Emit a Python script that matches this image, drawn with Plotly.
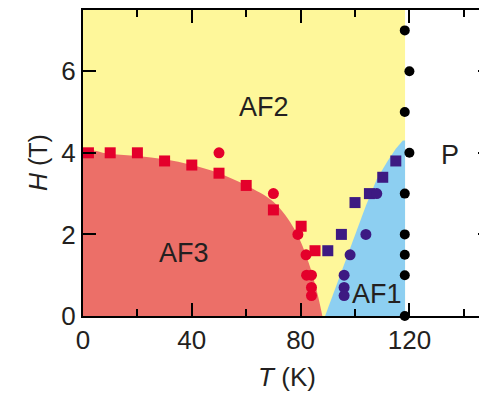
import plotly.graph_objects as go

# Region boundaries
af2_T = [0, 118.4, 118.4, 0]
af2_H = [0, 0, 7.5, 7.5]

af3_T = [0, 0, 10, 20, 30, 40, 50, 60, 70, 78, 83, 86, 88]
af3_H = [0, 4.0, 3.97, 3.92, 3.84, 3.7, 3.5, 3.2, 2.8, 2.1, 1.3, 0.6, 0]

af1_T = [89, 95, 100, 104, 108, 112, 115, 117.6, 118.4, 118.4]
af1_H = [0, 1.1, 2.0, 2.7, 3.35, 3.8, 4.1, 4.3, 4.3, 0]

# Data points
red_sq_T = [2, 10, 20, 30, 40, 50, 60, 70, 80.2, 85.3]
red_sq_H = [4.0, 4.0, 4.0, 3.8, 3.7, 3.5, 3.2, 2.6, 2.2, 1.6]

red_ci_T = [50, 70, 79, 82, 82.2, 84, 84, 84]
red_ci_H = [4.0, 3.0, 2.0, 1.5, 1.0, 1.0, 0.7, 0.5]

pur_sq_T = [90, 95, 100, 105.3, 110.2, 115]
pur_sq_H = [1.6, 2.0, 2.78, 3.0, 3.4, 3.8]

pur_ci_T = [108, 104, 98.2, 96, 96, 96]
pur_ci_H = [3.0, 2.0, 1.5, 1.0, 0.7, 0.5]

blk_T = [118.3, 120, 118.3, 120, 118.3, 118.3, 118.3, 118.3, 118.3]
blk_H = [7, 6, 5, 4, 3, 2, 1.5, 1, 0]

labels = ["AF2", "AF3", "AF1", "P"]
label_T = [66.5, 37, 108, 135]
label_H = [5.12, 1.54, 0.55, 3.95]

x_ticks = [0, 40, 80, 120]
x_minor = [20, 60, 100, 140]
y_ticks = [0, 2, 4, 6]

FONT = "Liberation Sans, Arial, sans-serif"
TXT = "#231F20"

fig = go.Figure()
fig.add_trace(go.Scatter(x=af2_T, y=af2_H, fill="toself", fillcolor="#FEF79A",
                         line=dict(width=0), mode="lines", hoverinfo="skip"))
fig.add_trace(go.Scatter(x=af3_T, y=af3_H, fill="toself", fillcolor="#EC6F68",
                         line=dict(width=0, shape="spline"), mode="lines", hoverinfo="skip"))
fig.add_trace(go.Scatter(x=af1_T, y=af1_H, fill="toself", fillcolor="#8DCFF1",
                         line=dict(width=0), mode="lines", hoverinfo="skip"))

fig.add_trace(go.Scatter(x=red_sq_T, y=red_sq_H, mode="markers",
                         marker=dict(symbol="square", size=11, color="#E4002B")))
fig.add_trace(go.Scatter(x=red_ci_T, y=red_ci_H, mode="markers",
                         marker=dict(symbol="circle", size=11, color="#E4002B")))
fig.add_trace(go.Scatter(x=pur_sq_T, y=pur_sq_H, mode="markers",
                         marker=dict(symbol="square", size=11, color="#3D1A82")))
fig.add_trace(go.Scatter(x=pur_ci_T, y=pur_ci_H, mode="markers",
                         marker=dict(symbol="circle", size=11, color="#3D1A82")))
fig.add_trace(go.Scatter(x=blk_T, y=blk_H, mode="markers",
                         marker=dict(symbol="circle", size=10, color="black"),
                         cliponaxis=False))

for t, x, y in zip(labels, label_T, label_H):
    fig.add_annotation(x=x, y=y, text=t, showarrow=False,
                       font=dict(family=FONT, size=27, color=TXT))

# y-axis title placed as a rotated annotation
fig.add_annotation(xref="paper", yref="paper", x=-0.11, y=0.5,
                   xanchor="center", yanchor="middle", textangle=-90,
                   text="<i>H</i> (T)", showarrow=False,
                   font=dict(family=FONT, size=25, color=TXT))

fig.update_layout(
    width=487, height=397,
    margin=dict(l=75, r=4, t=2, b=89),
    plot_bgcolor="white", paper_bgcolor="white",
    showlegend=False,
    font=dict(family=FONT, color=TXT),
)
fig.update_xaxes(
    range=[0, 150], tickvals=x_ticks,
    ticks="inside", ticklen=13, tickwidth=2, tickcolor="black",
    minor=dict(ticks="inside", ticklen=7, tickwidth=2, tickvals=x_minor, tickcolor="black"),
    showline=True, linewidth=2, linecolor="black", mirror="ticks",
    showgrid=False, zeroline=False, automargin=False,
    tickfont=dict(size=26, family=FONT, color=TXT),
    title=dict(text="<i>T</i> (K)", font=dict(size=26, family=FONT, color=TXT), standoff=14),
)
fig.update_yaxes(
    range=[0, 7.5], tickvals=y_ticks,
    ticks="inside", ticklen=13, tickwidth=2, tickcolor="black",
    showline=True, linewidth=2, linecolor="black", mirror="ticks",
    showgrid=False, zeroline=False, automargin=False,
    tickfont=dict(size=26, family=FONT, color=TXT),
)

fig.write_html("out.html")
